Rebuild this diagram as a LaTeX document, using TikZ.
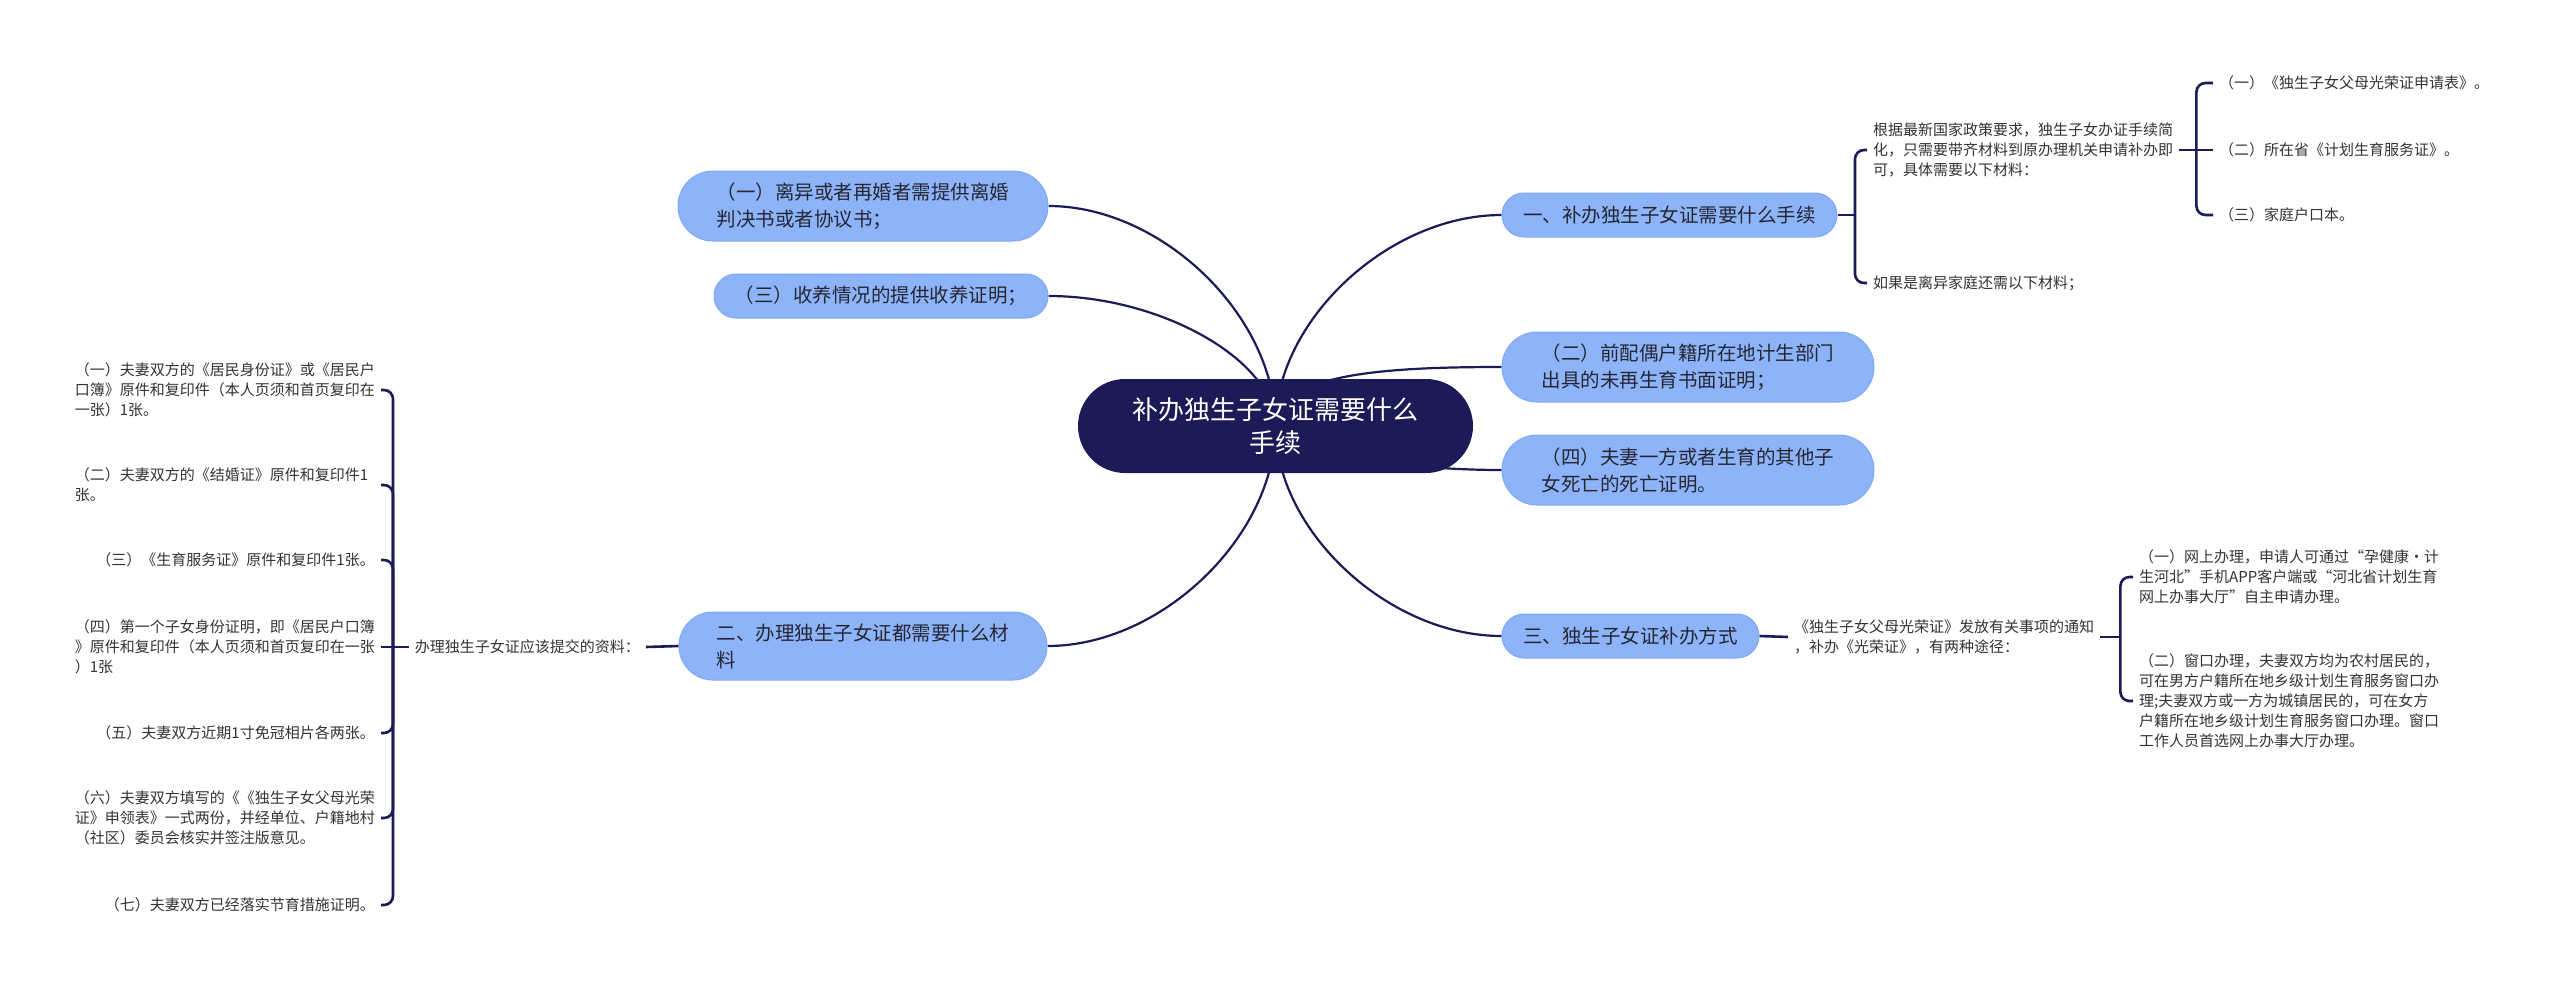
\documentclass[tikz,border=0pt]{standalone}
\usepackage{fontspec}
\setmainfont{Noto Sans CJK SC}
\usetikzlibrary{shapes.misc,calc}
\pgfdeclarelayer{bg}
\pgfsetlayers{bg,main}
\definecolor{navy}{HTML}{1C1B57}
\definecolor{bluefill}{HTML}{8DB4F9}
\definecolor{blueline}{HTML}{7EA9F5}
\definecolor{txt}{HTML}{333333}
\definecolor{toptxt}{HTML}{262633}
\begin{document}
\begin{tikzpicture}[x=1pt,y=-1pt,
  rootbox/.style={rounded rectangle, fill=navy, text=white, font=\fontsize{26}{33}\selectfont, align=center, minimum width=395pt, minimum height=94pt, inner sep=0pt},
  topicbox/.style={rounded rectangle, fill=bluefill, draw=blueline, line width=1pt, text=toptxt, font=\fontsize{19.5}{27}\selectfont, align=left, inner sep=0pt},
  leaf/.style={text=txt, font=\fontsize{15}{20}\selectfont, align=left, inner xsep=6pt, inner ysep=2pt},
  leafw/.style={leaf, text width=300pt},
  mlink/.style={draw=navy, line width=2.2pt},
  hook/.style={draw=navy, line width=2.6pt, rounded corners=9pt},
  mcurve/.style={to path={.. controls ($(\tikztostart)!0.5!(\tikztostart |- \tikztotarget)$) and ($(\tikztotarget)!0.5!(\tikztostart |- \tikztotarget)$) .. (\tikztotarget)}},
  mcurveb/.style={to path={.. controls ($(\tikztostart)!0.9!(\tikztostart |- \tikztotarget)$) and ($(\tikztotarget)!0.5!(\tikztostart |- \tikztotarget)$) .. (\tikztotarget)}},
]
\useasboundingbox (0,0) rectangle (2560,986);

% central and main topics
\node[rootbox] (root) at (1275.5,426) {补办独生子女证需要什么\\手续};
\node[topicbox, minimum width=370pt, minimum height=70pt] (l1) at (863,206) {（一）离异或者再婚者需提供离婚\\判决书或者协议书；};
\node[topicbox, minimum width=334pt, minimum height=44pt] (l2) at (881,296) {（三）收养情况的提供收养证明；};
\node[topicbox, minimum width=368pt, minimum height=68pt] (l3) at (863,646) {二、办理独生子女证都需要什么材\\料};
\node[topicbox, minimum width=335pt, minimum height=44pt] (r1) at (1669.5,215) {一、补办独生子女证需要什么手续};
\node[topicbox, minimum width=372pt, minimum height=70pt] (r2) at (1688,367) {（二）前配偶户籍所在地计生部门\\出具的未再生育书面证明；};
\node[topicbox, minimum width=372pt, minimum height=70pt] (r3) at (1688,470) {（四）夫妻一方或者生育的其他子\\女死亡的死亡证明。};
\node[topicbox, minimum width=257pt, minimum height=44pt] (r4) at (1630.5,636) {三、独生子女证补办方式};

% left leaves
\node[leaf, anchor=east] (m) at (646,647) {办理独生子女证应该提交的资料：};
\node[leafw, anchor=east] (a1) at (381,390) {（一）夫妻双方的《居民身份证》或《居民户\\口簿》原件和复印件（本人页须和首页复印在\\一张）1张。};
\node[leafw, anchor=east] (a2) at (381,485) {（二）夫妻双方的《结婚证》原件和复印件1\\张。};
\node[leaf, anchor=east] (a3) at (381,560) {（三）《生育服务证》原件和复印件1张。};
\node[leafw, anchor=east] (a4) at (381,647) {（四）第一个子女身份证明，即《居民户口簿\\》原件和复印件（本人页须和首页复印在一张\\）1张};
\node[leaf, anchor=east] (a5) at (381,733) {（五）夫妻双方近期1寸免冠相片各两张。};
\node[leafw, anchor=east] (a6) at (381,818) {（六）夫妻双方填写的《《独生子女父母光荣\\证》申领表》一式两份，并经单位、户籍地村\\（社区）委员会核实并签注版意见。};
\node[leaf, anchor=east] (a7) at (381,905) {（七）夫妻双方已经落实节育措施证明。};

% right leaves of topic 1
\node[leafw, anchor=west] (ra) at (1867,150) {根据最新国家政策要求，独生子女办证手续简\\化，只需要带齐材料到原办理机关申请补办即\\可，具体需要以下材料：};
\node[leaf, anchor=west] (rb) at (1867,283) {如果是离异家庭还需以下材料；};
\node[leaf, anchor=west] (s1) at (2213,83) {（一）《独生子女父母光荣证申请表》。};
\node[leaf, anchor=west] (s2) at (2213,150) {（二）所在省《计划生育服务证》。};
\node[leaf, anchor=west] (s3) at (2213,215) {（三）家庭户口本。};

% right leaves of topic 3
\node[leafw, anchor=west] (t) at (1788,637) {《独生子女父母光荣证》发放有关事项的通知\\，补办《光荣证》，有两种途径：};
\node[leafw, anchor=west] (c1) at (2133,577) {（一）网上办理，申请人可通过“孕健康·计\\生河北”手机APP客户端或“河北省计划生育\\网上办事大厅”自主申请办理。};
\node[leafw, anchor=west] (c2) at (2133,701) {（二）窗口办理，夫妻双方均为农村居民的，\\可在男方户籍所在地乡级计划生育服务窗口办\\理;夫妻双方或一方为城镇居民的，可在女方\\户籍所在地乡级计划生育服务窗口办理。窗口\\工作人员首选网上办事大厅办理。};

% bracket junctions
\coordinate (bl) at (393,647);
\coordinate (b1) at (1855,215);
\coordinate (b2) at ($(ra.east)+(17,0)$);
\coordinate (b4) at ($(t.east)+(20,0)$);

\begin{pgfonlayer}{bg}
  \fill[white] (0,0) rectangle (2560,986);
  \draw[mlink] (root.center) to[mcurve] (l1.east);
  \draw[mlink] (root.center) to[mcurve] (l2.east);
  \draw[mlink] (root.center) to[mcurve] (l3.east);
  \draw[mlink] (root.center) to[mcurve] (r1.west);
  \draw[mlink] (root.center) to[mcurveb] (r2.west);
  \draw[mlink] (root.center) to[mcurve] (r3.west);
  \draw[mlink] (root.center) to[mcurve] (r4.west);
\end{pgfonlayer}

% left bracket
\draw[hook] (l3.west) -- (m.east);
\draw[hook] (m.west) -- (bl) -- (a4.east);
\draw[hook] (bl) |- (a1.east);
\draw[hook] (bl) |- (a2.east);
\draw[hook] (bl) |- (a3.east);
\draw[hook] (bl) |- (a5.east);
\draw[hook] (bl) |- (a6.east);
\draw[hook] (bl) |- (a7.east);

% topic 1 brackets
\draw[hook] (r1.east) -- (b1);
\draw[hook] (b1) |- (ra.west);
\draw[hook] (b1) |- (rb.west);
\draw[hook] (ra.east) -- (b2) -- (s2.west);
\draw[hook] (b2) |- (s1.west);
\draw[hook] (b2) |- (s3.west);

% topic 3 brackets
\draw[hook] (r4.east) -- (t.west);
\draw[hook] (t.east) -- (b4);
\draw[hook] (b4) |- (c1.west);
\draw[hook] (b4) |- (c2.west);
\end{tikzpicture}
\end{document}
